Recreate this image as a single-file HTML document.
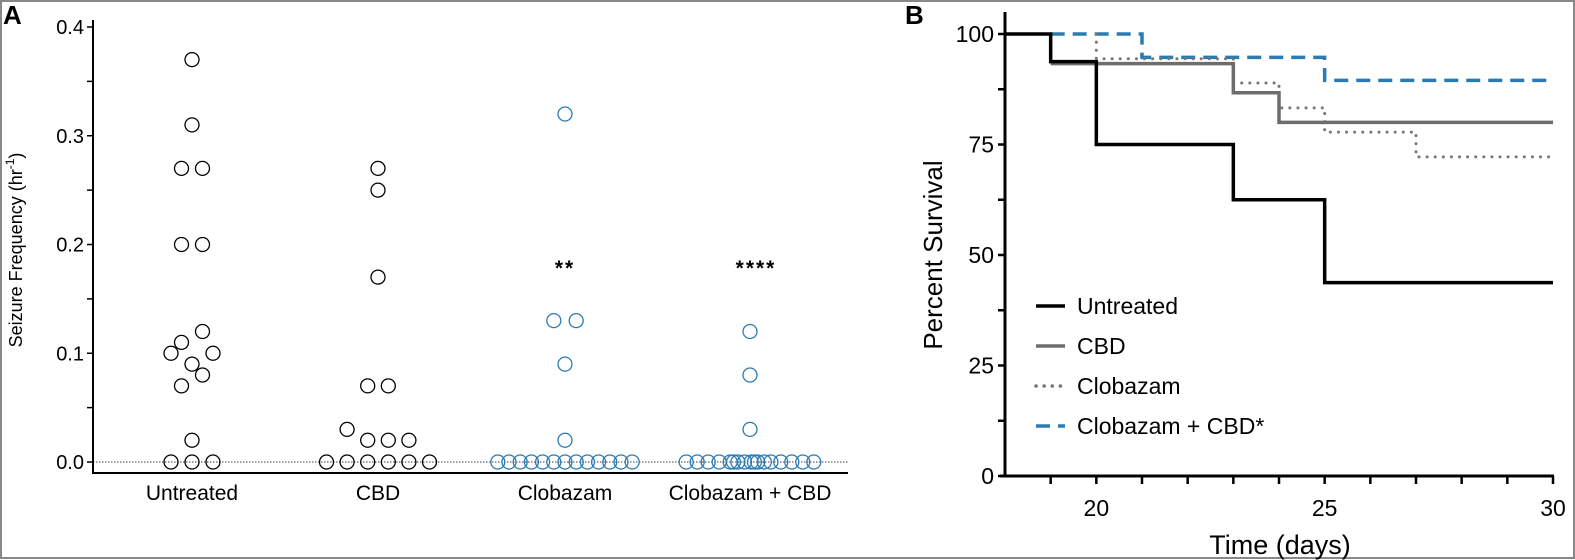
<!DOCTYPE html>
<html><head><meta charset="utf-8"><style>
html,body{margin:0;padding:0;background:#fff}
svg{display:block;font-family:"Liberation Sans",sans-serif}
</style></head><body>
<svg id="fig" width="1575" height="560" viewBox="0 0 1575 560">
<rect x="1" y="1" width="1573" height="557" fill="none" stroke="#888" stroke-width="2"/>
<text x="3" y="24" font-size="26" font-weight="bold">A</text>
<text x="905" y="24" font-size="26" font-weight="bold">B</text>
<g id="pa"></g>
<g id="pb"></g>
</svg>
<script>
// ---------- Panel A data ----------
const catNames = ["Untreated","CBD","Clobazam","Clobazam + CBD"];
const untreatedVals = [0.37,0.31,0.27,0.27,0.20,0.20,0.12,0.11,0.10,0.10,0.09,0.08,0.07,0.02,0,0,0];
const untreatedSlots = [0,0,-1,1,-1,1,1,-1,-2,2,0,1,-1,0,-2,0,2];
const cbdVals = [0.27,0.25,0.17,0.07,0.07,0.03,0.02,0.02,0.02,0,0,0,0,0,0];
const cbdSlots = [0,0,0,-1,1,-3,-1,1,3,-5,-3,-1,1,3,5];
const clobVals = [0.32,0.13,0.13,0.09,0.02,0,0,0,0,0,0,0,0,0,0,0,0,0];
const clobSlots = [0,-1,1,0,0,-6,-5,-4,-3,-2,-1,0,1,2,3,4,5,6];
const comboVals = [0.12,0.08,0.03,0,0,0,0,0,0,0,0,0,0,0,0,0,0,0,0,0];
const comboSlots = [0,0,0,-5.8,-4.8,-3.8,-2.8,-1.8,-1.1,-0.5,0.1,0.7,1.3,1.9,2.8,3.8,4.8,5.8,-1.5,0.4];
const aTicks = [0,0.1,0.2,0.3,0.4];
const aTickLabels = ["0.0","0.1","0.2","0.3","0.4"];
const sigLabels = ["","","**","****"];
// ---------- Panel B data ----------
const bTicksX = [20,25,30];
const bTicksY = [0,25,50,75,100];
const untreatedT = [18,19,20,23,25,30];
const untreatedS = [100,93.75,75,62.5,43.75,43.75];
const cbdT = [19,20,23,24,30];
const cbdS = [93.3,93.3,86.7,80,80];
const clobT = [20,23,24,25,27,30];
const clobS = [94.4,88.9,83.3,77.8,72.2,72.2];
const comboT = [19,21,25,30];
const comboS = [100,94.7,89.5,89.5];
const clobStartT = 20; const clobStartS = 100;

const NS="http://www.w3.org/2000/svg";
function mk(tag,attrs,parent,txt){const e=document.createElementNS(NS,tag);for(const k in attrs)e.setAttribute(k,attrs[k]);if(txt!==undefined)e.textContent=txt;parent.appendChild(e);return e;}

// Panel A scales
const pa=document.getElementById('pa');
const ay=v=>462-v*(462-27)/0.4;
const catX=[192,378,565,750];
const slotW=[10.5,10.3,11.2,11];
let e=mk('line',{x1:93,y1:20,x2:93,y2:473,stroke:'#000','stroke-width':2},pa);

e=mk('line',{x1:92,y1:473,x2:848,y2:473,stroke:'#000','stroke-width':2},pa);

e=mk('line',{x1:93,y1:ay(0),x2:848,y2:ay(0),stroke:'#000','stroke-width':0.8,'stroke-dasharray':'1.5,1.5'},pa);

for(let i=0;i<=8;i++){const v=i*0.05;const l=mk('line',{x1:87,y1:ay(v),x2:93,y2:ay(v),stroke:'#000','stroke-width':1.5},pa);
}
aTicks.forEach((v,i)=>{const t=mk('text',{x:84,y:ay(v)+7,'font-size':20,'text-anchor':'end'},pa,aTickLabels[i]);
});
e=mk('text',{x:0,y:0,'font-size':18,'text-anchor':'middle',transform:'translate(22,250) rotate(-90)'},pa);

e.innerHTML='Seizure Frequency (hr<tspan dy="-8" font-size="12">-1</tspan><tspan dy="8">)</tspan>';
catNames.forEach((n,i)=>{const t=mk('text',{x:catX[i],y:500,'font-size':21,'text-anchor':'middle'},pa,n);

if(sigLabels[i]){const s=mk('text',{x:catX[i]+(i==3?6:0),y:275,'font-size':21,'font-weight':'bold','text-anchor':'middle','letter-spacing':'2'},pa,sigLabels[i]);
}});
const groups=[[untreatedVals,untreatedSlots,'#000'],[cbdVals,cbdSlots,'#000'],[clobVals,clobSlots,'#2b7bb3'],[comboVals,comboSlots,'#2b7bb3']];
groups.forEach((g,gi)=>{g[0].forEach((v,j)=>{const c=mk('circle',{cx:catX[gi]+g[1][j]*slotW[gi],cy:ay(v),r:7,fill:'none',stroke:g[2],'stroke-width':1.3},pa);
});});

// Panel B scales
const pb=document.getElementById('pb');
const bx=t=>1005+(t-18)*(1553-1005)/12;
const by=s=>476-s*(476-34)/100;
e=mk('line',{x1:1005,y1:12,x2:1005,y2:477,stroke:'#000','stroke-width':3},pb);

e=mk('line',{x1:1000,y1:476,x2:1554,y2:476,stroke:'#000','stroke-width':3},pb);

for(let s=0;s<=100;s+=12.5){const t=mk('line',{x1:998,y1:by(s),x2:1005,y2:by(s),stroke:'#000','stroke-width':2.5},pb);
}
for(let d=19;d<=30;d++){const t=mk('line',{x1:bx(d),y1:476,x2:bx(d),y2:484,stroke:'#000','stroke-width':2.5},pb);
}
bTicksY.forEach(v=>{const t=mk('text',{x:994,y:by(v)+8,'font-size':23,'text-anchor':'end'},pb,String(v));
});
bTicksX.forEach(v=>{const t=mk('text',{x:bx(v),y:516,'font-size':23,'text-anchor':'middle'},pb,String(v));
});
e=mk('text',{x:0,y:0,'font-size':26,'text-anchor':'middle',transform:'translate(942,255) rotate(-90)'},pb,'Percent Survival');

e=mk('text',{x:1280,y:554,'font-size':27,'text-anchor':'middle'},pb,'Time (days)');

function stepPath(T,S,t0,s0){let d='M'+bx(t0)+','+by(s0);for(let i=0;i<T.length;i++){d+=' H'+bx(T[i])+' V'+by(S[i]);}return d;}
const series=[
 [stepPath(comboT,comboS,19,100),'#2b7bb3',3.5,'14,8','combo-curve'],
 [stepPath(clobT,clobS,clobStartT,clobStartS),'#777',3,'0.1,8','clobazam-curve'],
 [stepPath(cbdT,cbdS,19,93.3),'#6d6d6d',3.5,'','cbd-curve'],
 [stepPath(untreatedT,untreatedS,18,100),'#000',3.5,'','untreated-curve']];
series.forEach(s=>{const p=mk('path',{d:s[0],fill:'none',stroke:s[1],'stroke-width':s[2],'stroke-dasharray':s[3],'stroke-linecap':s[3]==='0.1,8'?'round':'butt'},pb);
});
const leg=[['Untreated','#000',''],['CBD','#6d6d6d',''],['Clobazam','#777','0.1,8'],['Clobazam + CBD*','#2b7bb3','14,8']];
leg.forEach((L,i)=>{const y=306+i*40;
const g=mk('g',{},pb);
mk('line',{x1:1036,y1:y,x2:1065,y2:y,stroke:L[1],'stroke-width':3.5,'stroke-dasharray':L[2],'stroke-linecap':L[2]==='0.1,8'?'round':'butt'},g);
mk('text',{x:1077,y:y+8,'font-size':23},g,L[0]);});
</script>
</body></html>
